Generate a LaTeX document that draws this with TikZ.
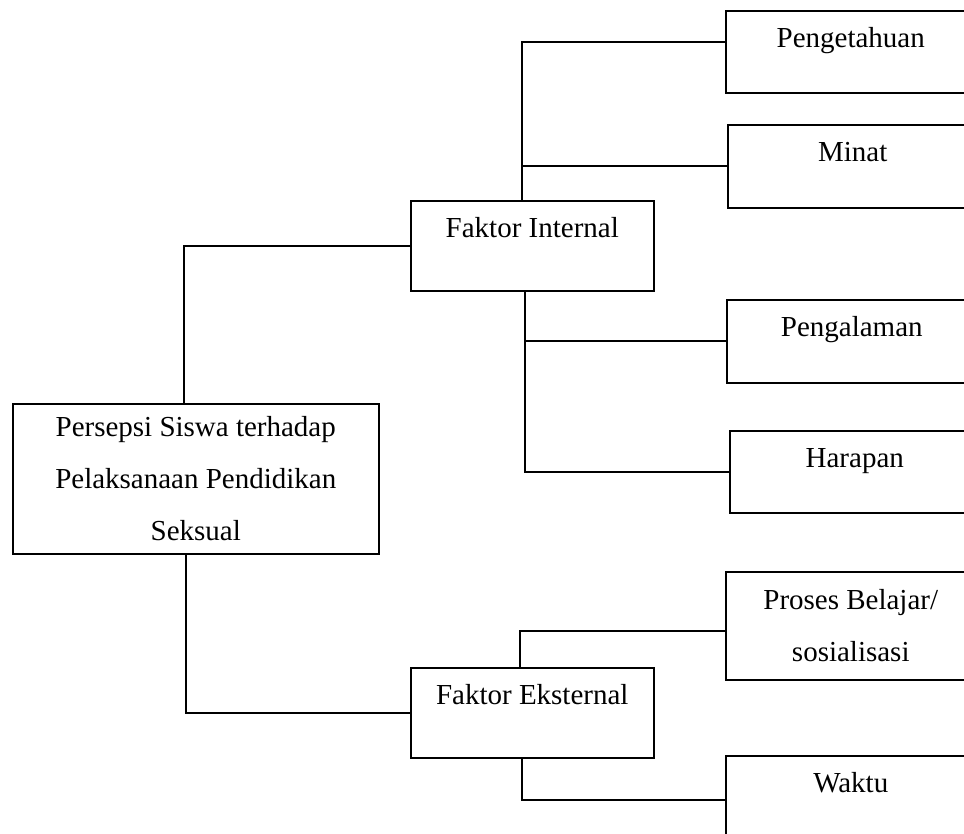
\documentclass[tikz,border=0pt]{standalone}
\usepackage{fontspec}
\setmainfont{Liberation Serif}
\usepackage{tikz}
\usetikzlibrary{positioning, calc}

\begin{document}
\begin{tikzpicture}[x=0.02cm, y=-0.02cm,
    box/.style={draw, line width=0.9pt, inner sep=0pt, anchor=north west, align=center,
                font=\fontsize{16.5}{29.7}\selectfont},
    faktor/.style={box, minimum width=4.86cm, text height=0.73cm, text depth=1.07cm},
    leaf/.style={box, minimum width=5cm, text height=0.74cm, text depth=#1},
    link/.style={line width=1pt}]
  \useasboundingbox (0,0) rectangle (964,834);
  \clip (0,0) rectangle (964,834);

  % Main box
  \node[box, minimum width=7.32cm, minimum height=3cm] (persepsi) at (12,403)
    {Persepsi Siswa terhadap\\Pelaksanaan Pendidikan\\Seksual};

  % Factor boxes
  \node[faktor] (intern) at (410,200) {Faktor Internal};
  \node[faktor] (ekstern) at (410,667) {Faktor Eksternal};

  % Internal factors
  \node[leaf=0.9cm] (tahu) at (725,10) {Pengetahuan};
  \node[leaf=0.92cm] (minat) at (727,124) {Minat};
  \node[leaf=0.92cm] (alam) at (726,299) {Pengalaman};
  \node[leaf=0.9cm] (harap) at (729,430) {Harapan};

  % External factors
  \node[box, minimum width=5cm, minimum height=2.16cm] (proses) at (725,571)
    {Proses Belajar/\\sosialisasi};
  \node[leaf=1.02cm] (waktu) at (725,755) {Waktu};

  % Connectors
  \draw[link] ([xshift=-0.24cm]persepsi.north) |- (intern.west);
  \draw[link] ([xshift=-0.2cm]persepsi.south) |- (ekstern.west);

  \coordinate (itop) at ([xshift=-0.2cm]intern.north);
  \coordinate (ibot) at ([xshift=-0.15cm]intern.south);
  \draw[link] (itop) |- ([yshift=0.2cm]tahu.west);
  \draw[link] (itop |- minat.west) -- (minat.west);
  \draw[link] (ibot) |- (harap.west);
  \draw[link] (ibot |- alam.west) -- (alam.west);

  \coordinate (etop) at ([xshift=-0.25cm]ekstern.north);
  \coordinate (ebot) at ([xshift=-0.2cm]ekstern.south);
  \draw[link] (etop) |- ([yshift=-0.1cm]proses.west);
  \draw[link] (ebot) |- (waktu.west);
\end{tikzpicture}
\end{document}
